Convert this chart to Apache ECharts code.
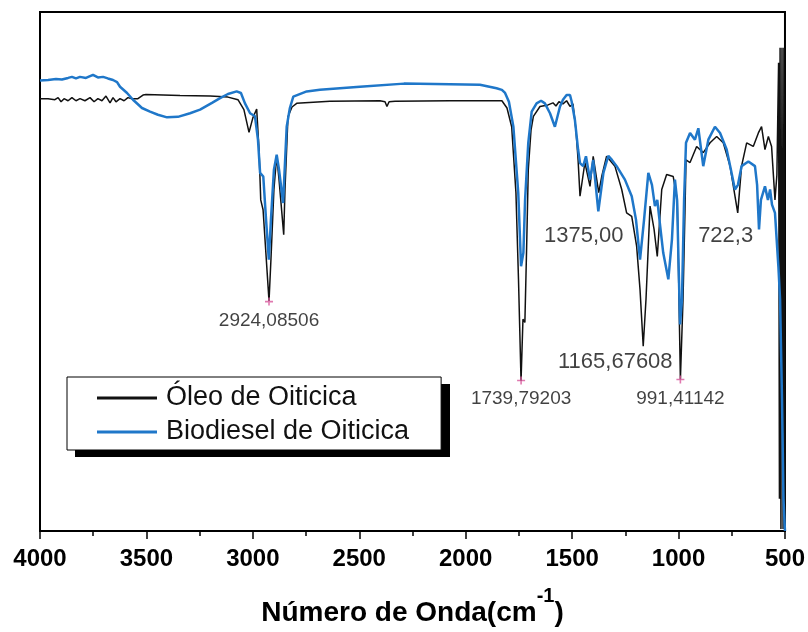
<!DOCTYPE html>
<html>
<head>
<meta charset="utf-8">
<script src="https://cdn.jsdelivr.net/npm/echarts@6/dist/echarts.min.js"></script>
<style>
  html, body { margin: 0; padding: 0; background: #fff; }
  #chart { width: 808px; height: 632px; }
</style>
</head>
<body>
<div id="chart"></div>
<script>
// espectros FTIR: [numero de onda, transmitancia relativa]
const oleoSpectrum = [
  [4000, 83.3], [3962, 83.3], [3930, 83.1], [3915, 83.5], [3901, 82.7], [3887, 83.3],
  [3868, 82.9], [3850, 83.5], [3831, 82.9], [3812, 83.3], [3789, 82.9], [3765, 83.5],
  [3746, 82.7], [3728, 83.3], [3709, 82.9], [3690, 83.8], [3671, 82.5], [3657, 83.5],
  [3643, 82.7], [3624, 83.3], [3605, 82.9], [3587, 83.5], [3568, 83.3], [3540, 83.3],
  [3516, 84.0], [3502, 84.1], [3342, 83.9], [3201, 83.8], [3117, 83.6], [3070, 83.1],
  [3042, 81.2], [3018, 76.8], [3000, 79.6], [2982, 81.3], [2971, 73.5], [2963, 63.8],
  [2952, 61.9], [2924, 44.3], [2915, 52.3], [2901, 65.8], [2888, 72.2], [2877, 67.7],
  [2855, 57.1], [2849, 65.8], [2835, 79.8], [2816, 81.7], [2794, 82.4], [2638, 82.8],
  [2403, 82.9], [2379, 82.7], [2370, 81.8], [2360, 82.7], [2332, 82.8], [2074, 82.9],
  [1830, 82.9], [1806, 81.5], [1784, 77.9], [1764, 65.2], [1752, 48.5], [1740, 28.9],
  [1731, 40.8], [1722, 40.2], [1714, 54.2], [1706, 69.6], [1693, 77.3], [1682, 79.9],
  [1651, 81.8], [1613, 82.1], [1590, 82.5], [1576, 81.9], [1562, 82.7], [1543, 82.3],
  [1526, 82.9], [1510, 81.8], [1496, 82.3], [1482, 77.3], [1472, 71.5], [1463, 64.5],
  [1440, 71.0], [1416, 66.4], [1401, 72.2], [1375, 65.2], [1361, 68.3], [1338, 72.2],
  [1299, 70.3], [1267, 65.8], [1244, 61.3], [1220, 60.6], [1197, 54.9], [1181, 46.5],
  [1166, 35.6], [1153, 44.6], [1134, 62.6], [1115, 58.1], [1100, 52.9], [1079, 65.8],
  [1056, 68.7], [1025, 68.3], [1006, 63.8], [991.4, 29.2], [979, 44.6], [970, 61.3],
  [965, 71.5], [946, 71.0], [915, 74.1], [884, 72.9], [852, 74.8], [821, 76.0],
  [790, 74.8], [758, 70.3], [722, 61.3], [704, 70.3], [680, 74.8], [649, 74.1],
  [625, 76.7], [610, 77.9], [594, 73.5], [578, 76.0], [563, 74.1], [547, 63.8],
  [538, 68.6], [530, 90.2], [526, 6.2], [523, 93.1], [519, 0.4], [514, 93.1],
  [509, 0.4], [505, 93.1], [500, 0]
];

const biodieselSpectrum = [
  [4000, 86.8], [3962, 86.9], [3925, 87.1], [3897, 87.0], [3868, 87.3], [3850, 87.5],
  [3831, 87.2], [3812, 87.5], [3784, 87.3], [3751, 87.9], [3728, 87.4], [3704, 87.5],
  [3681, 87.2], [3657, 86.9], [3638, 86.5], [3624, 85.6], [3591, 84.4], [3563, 83.1],
  [3521, 81.5], [3483, 80.8], [3446, 80.2], [3403, 79.7], [3352, 79.8], [3295, 80.5],
  [3248, 81.2], [3192, 82.5], [3154, 83.4], [3117, 84.2], [3076, 84.7], [3056, 84.4],
  [3037, 82.4], [3013, 80.5], [2990, 79.9], [2976, 75.4], [2966, 69.0], [2951, 68.3],
  [2938, 60.0], [2925, 52.3], [2915, 60.0], [2901, 69.6], [2888, 72.5], [2877, 69.6],
  [2858, 63.2], [2841, 77.9], [2826, 81.5], [2810, 83.7], [2747, 84.7], [2685, 85.0],
  [2497, 85.6], [2290, 86.2], [2074, 86.1], [1933, 86.0], [1855, 85.3], [1830, 85.0],
  [1815, 84.4], [1797, 82.7], [1776, 77.9], [1753, 65.1], [1740, 51.0], [1729, 53.6],
  [1721, 63.8], [1706, 74.8], [1690, 80.8], [1667, 82.4], [1646, 82.9], [1628, 82.4],
  [1604, 80.5], [1581, 77.9], [1557, 81.8], [1543, 83.1], [1526, 84.0], [1510, 84.0],
  [1502, 82.7], [1487, 79.2], [1472, 73.5], [1463, 70.9], [1448, 70.3], [1435, 72.2],
  [1416, 67.7], [1401, 71.5], [1377, 61.6], [1353, 69.0], [1330, 72.3], [1313, 71.5],
  [1291, 70.3], [1252, 67.7], [1220, 64.5], [1200, 60.0], [1181, 52.3], [1162, 60.0],
  [1142, 69.0], [1125, 66.7], [1111, 62.6], [1100, 63.8], [1087, 59.0], [1072, 53.6],
  [1048, 48.5], [1031, 56.2], [1017, 67.7], [1007, 63.8], [993, 39.8], [984, 44.6],
  [974, 63.8], [965, 74.8], [946, 76.7], [923, 75.4], [907, 77.6], [884, 70.3],
  [860, 75.4], [829, 77.9], [805, 76.7], [774, 73.5], [754, 69.6], [735, 65.8],
  [721, 66.7], [704, 70.3], [672, 71.2], [641, 70.3], [631, 66.7], [622, 58.1],
  [613, 63.8], [594, 66.4], [580, 63.8], [570, 65.8], [561, 62.9], [547, 61.3],
  [531, 51.0], [523, 44.6], [514, 25.4], [507, 6.2], [500, 0]
];

// picos marcados (com +) e picos apenas rotulados
const markedPeakX = [2924.08506, 1739.79203, 991.41142];
const markedPeakY = [44.2, 29.0, 29.2];
const markedPeakText = ['2924,08506', '1739,79203', '991,41142'];
const labelPeakX = [1375.00, 722.3, 1165.67608];
const labelPeakY = [65.2, 61.3, 35.6];
const labelPeakText = ['1375,00', '722,3', '1165,67608'];

const xTicks = [4000, 3500, 3000, 2500, 2000, 1500, 1000, 500];
const seriesNames = ['Óleo de Oiticica', 'Biodiesel de Oiticica'];

const FONT = 'Arial, "Liberation Sans", sans-serif';
const chart = echarts.init(document.getElementById('chart'));

const markedOffsets = [[0, 19], [0, 18], [0, 19]];
const labelOffsets = [[-15, 43], [-12, 23], [-28, 16]];

const markedData = markedPeakX.map((x, i) => ({
  value: [x, markedPeakY[i]],
  name: markedPeakText[i],
  label: { offset: markedOffsets[i] }
}));
const labelData = labelPeakX.map((x, i) => ({
  value: [x, labelPeakY[i]],
  name: labelPeakText[i],
  label: { offset: labelOffsets[i] }
}));

let option = {
  animation: false,
  backgroundColor: '#fff',
  grid: {
    left: 40, right: 23, top: 12, bottom: 100,
    show: true, borderColor: '#000', borderWidth: 2
  },
  // sombra preta da caixa da legenda
  graphic: [{
    type: 'rect',
    left: 75, top: 384,
    shape: { width: 375, height: 73 },
    style: { fill: '#000' },
    z: 1
  }],
  legend: {
    data: seriesNames,
    orient: 'vertical',
    left: 67, top: 377,
    padding: [6, 32, 3, 30],
    itemGap: 4,
    itemWidth: 60,
    itemHeight: 3,
    icon: 'rect',
    backgroundColor: '#fff',
    borderColor: '#000',
    borderWidth: 1,
    z: 10,
    textStyle: { fontFamily: FONT, fontSize: 27, color: '#111', lineHeight: 30, padding: [0, 0, 0, 4] }
  },
  xAxis: {
    type: 'value',
    inverse: true,
    min: 500, max: 4000, interval: 500,
    name: '{a|Número de Onda(cm}{s|-1}{a|)}',
    nameLocation: 'middle',
    nameGap: 55,
    nameTextStyle: {
      rich: {
        a: { fontFamily: FONT, fontSize: 28, fontWeight: 'bold', color: '#000', lineHeight: 54 },
        s: { fontFamily: FONT, fontSize: 20, fontWeight: 'bold', color: '#000', verticalAlign: 'top' }
      }
    },
    axisLine: { show: true, onZero: false, lineStyle: { color: '#000', width: 2 } },
    axisTick: { show: true, inside: false, length: 8, lineStyle: { color: '#000', width: 1.5 } },
    minorTick: { show: true, splitNumber: 2, length: 5, lineStyle: { color: '#000', width: 1.5 } },
    axisLabel: {
      show: true, margin: 16,
      fontFamily: FONT, fontSize: 24, fontWeight: 'bold', color: '#000',
      formatter: v => (xTicks.indexOf(v) >= 0 ? String(v) : '')
    },
    splitLine: { show: false }
  },
  yAxis: {
    type: 'value',
    min: 0, max: 100,
    axisLine: { show: true, lineStyle: { color: '#000', width: 2 } },
    axisTick: { show: false },
    axisLabel: { show: false },
    splitLine: { show: false }
  },
  series: [
    {
      name: seriesNames[0],
      type: 'line',
      data: oleoSpectrum,
      symbol: 'none',
      lineStyle: { color: '#111', width: 1.5 },
      itemStyle: { color: '#111' },
      z: 2
    },
    {
      name: seriesNames[1],
      type: 'line',
      data: biodieselSpectrum,
      symbol: 'none',
      lineStyle: { color: '#1f77c9', width: 2.5 },
      itemStyle: { color: '#1f77c9' },
      z: 3
    },
    {
      type: 'scatter',
      data: markedData,
      symbol: 'path://M4 0H6V4H10V6H6V10H4V6H0V4H4Z',
      symbolSize: 8,
      itemStyle: { color: '#d8589c' },
      label: {
        show: true, position: 'inside',
        formatter: p => p.name,
        fontFamily: FONT, fontSize: 19, color: '#111'
      },
      z: 5
    },
    {
      type: 'scatter',
      data: labelData,
      symbolSize: 0,
      label: {
        show: true, position: 'inside',
        formatter: p => p.name,
        fontFamily: FONT, fontSize: 22, color: '#111'
      },
      z: 5
    }
  ]
};

chart.setOption(option);
</script>
</body>
</html>
